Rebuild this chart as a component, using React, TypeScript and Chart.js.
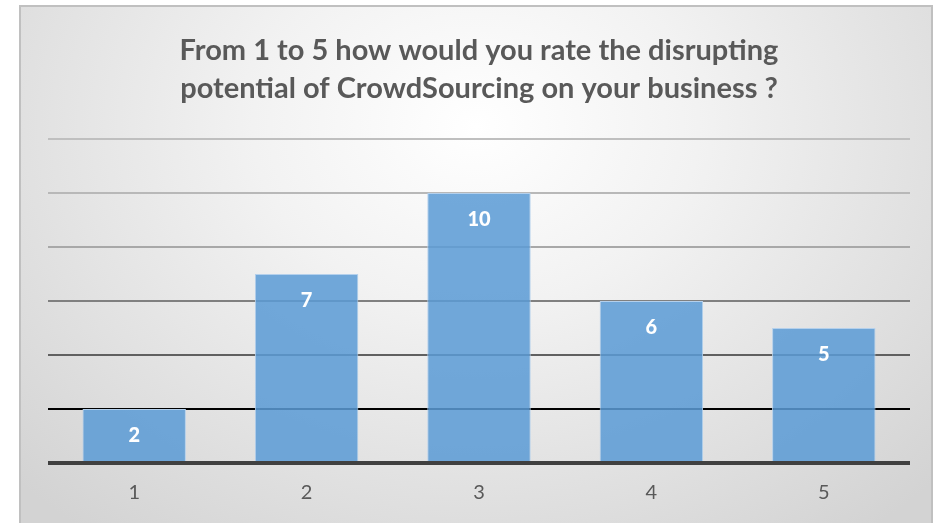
import React, { useEffect, useRef } from "react";
import { Chart, registerables } from "chart.js";

Chart.register(...registerables);

const categories = ["1", "2", "3", "4", "5"];
const counts = [2, 7, 10, 6, 5];
const titleLines = [
  "From 1 to 5 how would you rate the disrupting",
  "potential of CrowdSourcing on your business ?",
];
const yTicks = [0, 2, 4, 6, 8, 10, 12];
const gridColors = ["#404040", "#000000", "#606060", "#808080", "#a8a8a8", "#b8b8b8", "#bfbfbf"];

const FONT = "Lato, 'Open Sans', sans-serif";

const labelPlugin = {
  id: "barLabels",
  afterDatasetsDraw(chart: any) {
    const ctx = chart.ctx;
    const meta = chart.getDatasetMeta(0);
    ctx.save();
    ctx.fillStyle = "#ffffff";
    ctx.font = `900 20px ${FONT}`;
    ctx.textAlign = "center";
    ctx.textBaseline = "middle";
    meta.data.forEach((bar: any, i: number) => {
      ctx.fillText(String(counts[i]), bar.x, bar.y + 27);
    });
    ctx.restore();
  },
};

export default function App() {
  const ref = useRef<HTMLCanvasElement>(null);
  useEffect(() => {
    if (!ref.current) return;
    const chart = new Chart(ref.current, {
      type: "bar",
      data: {
        labels: categories,
        datasets: [
          {
            data: counts,
            backgroundColor: "rgba(91,155,213,0.86)",
            borderColor: "#b4d0ec",
            borderWidth: 1,
            categoryPercentage: 0.6,
            barPercentage: 1,
          },
        ],
      },
      options: {
        animation: false,
        responsive: false,
        maintainAspectRatio: false,
        layout: { padding: { left: 27, right: 19, top: 0, bottom: 0 } },
        plugins: {
          legend: { display: false },
          tooltip: { enabled: false },
          title: {
            display: true,
            text: titleLines,
            color: "#595959",
            font: { family: FONT, size: 29, weight: "bold", lineHeight: 1.31 },
            padding: { top: 25, bottom: 31 },
          },
        },
        scales: {
          x: {
            grid: { display: false, drawTicks: false },
            border: { display: false },
            ticks: {
              color: "#595959",
              font: { family: FONT, size: 20 },
              padding: 18,
            },
            afterFit: (axis: any) => {
              axis.height = 60;
            },
          },
          y: {
            min: 0,
            max: 12,
            afterBuildTicks: (axis: any) => {
              axis.ticks = yTicks.map((v) => ({ value: v }));
            },
            border: { display: false },
            grid: {
              drawTicks: false,
              color: (c: any) => gridColors[yTicks.indexOf(c.tick?.value)] || "#bfbfbf",
              lineWidth: (c: any) => (c.tick?.value === 0 ? 4 : 2),
            },
            ticks: { display: false },
          },
        },
      },
      plugins: [labelPlugin],
    });
    return () => chart.destroy();
  }, []);

  return (
    <div
      style={{
        position: "absolute",
        left: 19,
        top: 5,
        width: 910,
        height: 540,
        border: "2px solid #c0c0c0",
        background:
          "radial-gradient(ellipse 70% 95% at 50% 22%, #ffffff 0%, #f2f2f2 35%, #d3d3d3 100%)",
        overflow: "hidden",
      }}
    >
      <canvas ref={ref} width={908} height={516} style={{ display: "block" }} />
    </div>
  );
}
